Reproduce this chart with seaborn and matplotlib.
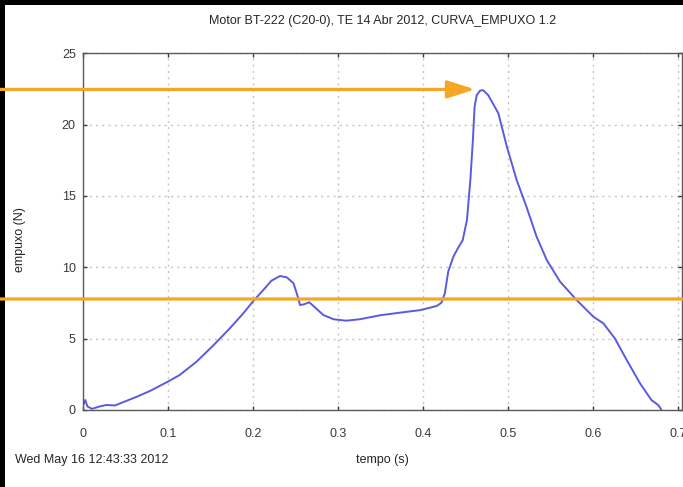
import matplotlib
matplotlib.use("Agg")
import matplotlib.pyplot as plt
import pandas as pd
import seaborn as sns
from matplotlib.patches import Rectangle

# thrust curve
tempo = [0.0, 0.003, 0.0055, 0.011, 0.020, 0.028, 0.038, 0.046, 0.062, 0.079,
         0.100, 0.114, 0.134, 0.154, 0.173, 0.189, 0.200, 0.2125, 0.222, 0.232,
         0.240, 0.248, 0.2536, 0.2556, 0.260, 0.2666, 0.271, 0.283, 0.295, 0.310,
         0.326, 0.350, 0.373, 0.397, 0.4165, 0.422, 0.426, 0.430, 0.436, 0.441,
         0.447, 0.452, 0.456, 0.459, 0.461, 0.4635, 0.4674, 0.471, 0.477, 0.489,
         0.499, 0.5106, 0.522, 0.534, 0.546, 0.5615, 0.581, 0.6007, 0.6125, 0.626,
         0.640, 0.6556, 0.669, 0.677, 0.681]
empuxo = [0.25, 0.7, 0.25, 0.08, 0.25, 0.35, 0.32, 0.51, 0.89, 1.33,
          1.98, 2.45, 3.39, 4.55, 5.72, 6.78, 7.59, 8.41, 9.06, 9.39,
          9.30, 8.88, 7.83, 7.36, 7.40, 7.55, 7.31, 6.66, 6.36, 6.26,
          6.36, 6.64, 6.82, 7.00, 7.29, 7.52, 8.18, 9.70, 10.74, 11.3,
          11.9, 13.3, 16.1, 18.9, 21.25, 22.07, 22.38, 22.42, 22.07, 20.79,
          18.45, 16.1, 14.25, 12.14, 10.5, 9.0, 7.71, 6.54, 6.07, 5.02,
          3.5, 1.87, 0.70, 0.35, 0.0]

x_ticks = [0, 0.1, 0.2, 0.3, 0.4, 0.5, 0.6, 0.7]
x_labels = ["0", "0.1", "0.2", "0.3", "0.4", "0.5", "0.6", "0.7"]
y_ticks = [0, 5, 10, 15, 20, 25]

nivel_medio = 7.78    # orange horizontal line
nivel_pico = 22.47    # orange arrow level
t_pico = 0.4615       # arrow tip

titulo = "Motor BT-222 (C20-0), TE 14 Abr 2012, CURVA_EMPUXO 1.2"
data_str = "Wed May 16 12:43:33 2012"

df = pd.DataFrame({"tempo": tempo, "empuxo": empuxo})

sns.set_theme(style="white")
plt.rcParams["font.family"] = ["Liberation Sans", "DejaVu Sans"]

laranja = "#f5a623"
azul = "#5a5ae0"
texto = "#262626"

fig = plt.figure(figsize=(6.83, 4.87), dpi=100)
fig.patch.set_facecolor("black")
fig.add_artist(Rectangle((5 / 683, 0), 1, 1 - 5 / 487, transform=fig.transFigure,
                         facecolor="white", edgecolor="none", zorder=-10))

ax = fig.add_axes([82.7 / 683, 77 / 487, (682 - 82.7) / 683, (410 - 53.3) / 487])
ax.set_facecolor("white")

sns.lineplot(data=df, x="tempo", y="empuxo", ax=ax, color=azul, linewidth=1.4,
             sort=False)

ax.set_xlim(0, 0.705)
ax.set_ylim(0, 25)
ax.set_xticks(x_ticks)
ax.set_xticklabels(x_labels)
ax.set_yticks(y_ticks)

ax.grid(True, color="#c4c4c4", linestyle=(0, (1.5, 3)), linewidth=1)
for s in ax.spines.values():
    s.set_color("#5a5a5a")
    s.set_linewidth(1)
ax.tick_params(direction="in", length=3, width=1, colors="#3a3a3a",
               top=True, right=True, bottom=True, left=True, labelsize=9)
ax.tick_params(axis="x", pad=13)
ax.tick_params(axis="y", pad=5)

ax.set_title(titulo, fontsize=9, color=texto, pad=21)
ax.set_xlabel("tempo (s)", fontsize=9, color=texto, labelpad=10)
ax.set_ylabel("empuxo (N)", fontsize=9, color=texto)
ax.yaxis.set_label_coords(-0.095, 0.478)

fig.text(15 / 683, 1 - 460 / 487, data_str, fontsize=9, color=texto,
         va="center", ha="left")

# orange annotations over the figure
ax.annotate("", xy=(1, nivel_medio), xycoords=("figure fraction", "data"),
            xytext=(0, nivel_medio), textcoords=("figure fraction", "data"),
            arrowprops=dict(arrowstyle="-", color=laranja, lw=2.3,
                            shrinkA=0, shrinkB=0),
            annotation_clip=False, zorder=5)
ax.annotate("", xy=(t_pico, nivel_pico), xycoords="data",
            xytext=(0, nivel_pico), textcoords=("figure fraction", "data"),
            arrowprops=dict(arrowstyle="-|>,head_length=1.4,head_width=0.45",
                            color=laranja, lw=2.3, shrinkA=0, shrinkB=0),
            annotation_clip=False, zorder=5)

fig.savefig("out.png", dpi=100, facecolor=fig.get_facecolor())
